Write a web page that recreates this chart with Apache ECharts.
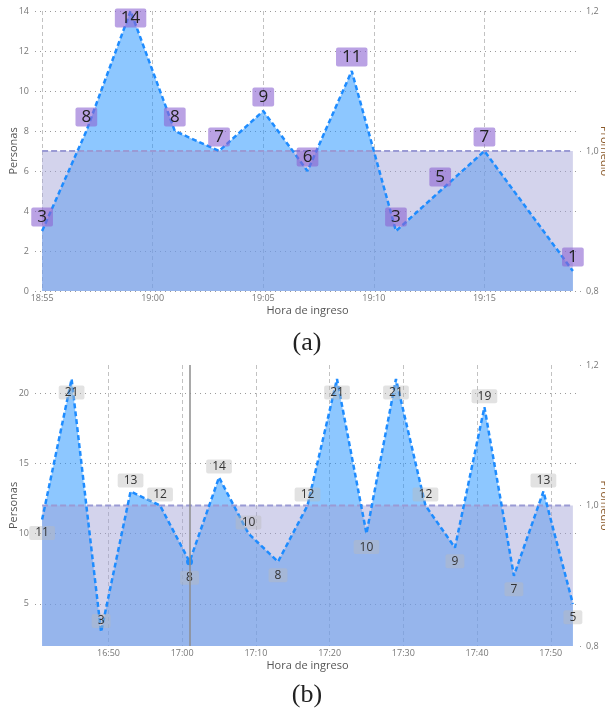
<!DOCTYPE html>
<html>
<head>
<meta charset="utf-8">
<script src="https://cdn.jsdelivr.net/npm/echarts@6/dist/echarts.min.js"></script>
<style>
html,body{margin:0;padding:0;background:#ffffff;}
#chart{width:605px;height:712px;}
</style>
</head>
<body>
<div id="chart"></div>
<script>
// ---------- Data: chart (a) ----------
const timesA = ['18:55','18:57','18:59','19:01','19:03','19:05','19:07','19:09','19:11','19:13','19:15','19:19'];
const personasA = [3, 8, 14, 8, 7, 9, 6, 11, 3, 5, 7, 1];
const promedioA = [1.0, 1.0, 1.0, 1.0, 1.0, 1.0, 1.0, 1.0, 1.0, 1.0, 1.0, 1.0];
const xTicksA = ['18:55','19:00','19:05','19:10','19:15'];
const yTicksA = [0, 2, 4, 6, 8, 10, 12, 14];

// ---------- Data: chart (b) ----------
const timesB = ['16:41','16:45','16:49','16:53','16:57','17:01','17:05','17:09','17:13','17:17','17:21','17:25','17:29','17:33','17:37','17:41','17:45','17:49','17:53'];
const personasB = [11, 21, 3, 13, 12, 8, 14, 10, 8, 12, 21, 10, 21, 12, 9, 19, 7, 13, 5];
const promedioB = [1.0, 1.0, 1.0, 1.0, 1.0, 1.0, 1.0, 1.0, 1.0, 1.0, 1.0, 1.0, 1.0, 1.0, 1.0, 1.0, 1.0, 1.0, 1.0];
const xTicksB = ['16:50','17:00','17:10','17:20','17:30','17:40','17:50'];
const yTicksB = [5, 10, 15, 20];
const cursorB = '17:01';

// shared secondary axis ticks
const rightTicks = [0.8, 1.0, 1.2];

// ---------- helpers ----------
const toMin = s => { const p = s.split(':').map(Number); return p[0] * 60 + p[1]; };
const fmtTime = v => { const t = Math.round(v); return Math.floor(t / 60) + ':' + String(t % 60).padStart(2, '0'); };
const fmtDec = v => Number(v).toFixed(1).replace('.', ',');

const FONT = '"Open Sans", "Noto Sans", sans-serif';
const BLUE_LINE = '#1e8cff';
const BLUE_AREA = 'rgba(30,144,255,0.72)';
const PURP_AREA = 'rgba(160,160,214,0.66)';
const PURP_LINE = '#9a9ad4';

// Chart (a) labels: always above, pulled inside when they would leave the plot
function labelItemsA(times, values, yMax) {
  return times.map((t, i) => {
    const v = values[i];
    const item = { value: [toMin(t), v] };
    if (v + 1.1 > yMax) item.label = { position: 'inside', offset: [0, 7] };
    return item;
  });
}
// Chart (b) labels: below at local minima, above otherwise, flipped to stay inside the plot
function labelItemsB(times, values, yMin, yMax, cursor) {
  return times.map((t, i) => {
    const v = values[i];
    const prev = i > 0 ? values[i - 1] : Infinity;
    const next = i < values.length - 1 ? values[i + 1] : Infinity;
    let below = v <= prev && v <= next;
    if (!below && v + 1.6 > yMax) below = true;
    if (below && v - 1.45 < yMin) below = false;
    const item = {
      value: [toMin(t), v],
      label: below ? { position: 'bottom', distance: 5.5 } : { position: 'top', distance: 3 }
    };
    if (t === cursor) {
      item.symbolSize = 7;
      item.itemStyle = { color: BLUE_LINE };
    }
    return item;
  });
}

function xAxisCfg(gridIndex, times, ticks) {
  const first = toMin(times[0]), last = toMin(times[times.length - 1]);
  const pad = (last - first) * 0.0134;
  const tv = ticks.map(toMin);
  return {
    gridIndex, type: 'value',
    min: first - pad, max: last + pad,
    axisLine: { show: false },
    axisTick: { show: false, customValues: tv },
    axisLabel: { customValues: tv, formatter: fmtTime, fontSize: 9, color: '#777', margin: 3, fontFamily: FONT },
    splitLine: { show: true, lineStyle: { color: '#c2c2c2', width: 1, type: [4, 3] } },
    name: 'Hora de ingreso', nameLocation: 'middle', nameGap: 14, nameMoveOverlap: false,
    nameTextStyle: { fontSize: 11, color: '#555', fontFamily: FONT }
  };
}
function leftAxisCfg(gridIndex, ticks, min, max) {
  return {
    gridIndex, type: 'value', min, max,
    axisLine: { show: false },
    axisTick: { show: false, customValues: ticks },
    axisLabel: { customValues: ticks, fontSize: 9, color: '#777', margin: 6, fontFamily: FONT },
    splitLine: { show: true, lineStyle: { color: '#9a9a9a', width: 1, type: [1, 4] } },
    name: 'Personas', nameLocation: 'middle', nameGap: 16, nameRotate: 90, nameMoveOverlap: false,
    nameTextStyle: { fontSize: 11, color: '#555', fontFamily: FONT }
  };
}
function rightAxisCfg(gridIndex) {
  return {
    gridIndex, type: 'value', position: 'right', min: rightTicks[0], max: rightTicks[rightTicks.length - 1],
    axisLine: { show: false },
    axisTick: { show: true, length: 1, customValues: rightTicks, lineStyle: { color: '#999' } },
    axisLabel: { customValues: rightTicks, formatter: fmtDec, fontSize: 9, color: '#777', margin: 6, fontFamily: FONT },
    splitLine: { show: false },
    name: 'Promedio', nameLocation: 'middle', nameGap: 19, nameRotate: -90, nameMoveOverlap: false,
    nameTextStyle: { fontSize: 11, color: '#8a5a2b', fontFamily: FONT }
  };
}

function seriesSet(xi, yl, yr, times, values, prom, labeled, labelStyle, extra) {
  const pairs = times.map((t, i) => [toMin(t), values[i]]);
  const promPairs = times.map((t, i) => [toMin(t), prom[i]]);
  const s = [
    {
      type: 'line', xAxisIndex: xi, yAxisIndex: yl, data: pairs, symbol: 'none', silent: true,
      lineStyle: { width: 0 }, areaStyle: { color: BLUE_AREA, origin: 'start' }, z: 2
    },
    {
      type: 'line', xAxisIndex: xi, yAxisIndex: yr, data: promPairs, symbol: 'none', silent: true,
      lineStyle: { color: PURP_LINE, width: 2, type: [6, 3] },
      areaStyle: { color: PURP_AREA, origin: 'start' }, z: 3
    },
    Object.assign({
      type: 'line', xAxisIndex: xi, yAxisIndex: yl, data: labeled, silent: true,
      symbol: 'circle', symbolSize: 2, itemStyle: { color: 'rgba(0,0,0,0)' },
      lineStyle: { color: BLUE_LINE, width: 2.5, type: [5, 3] },
      label: Object.assign({ show: true, formatter: p => p.value[1] }, labelStyle), z: 4
    }, extra || {})
  ];
  return s;
}

const chart = echarts.init(document.getElementById('chart'), null, { renderer: 'canvas' });

const labelStyleA = {
  position: 'top', distance: 3.5, fontSize: 17, lineHeight: 19, padding: [0, 6],
  color: '#222', backgroundColor: 'rgba(140,100,210,0.6)', borderRadius: 2, fontFamily: FONT
};
const labelStyleB = {
  fontSize: 12, lineHeight: 14, padding: [0, 6],
  color: '#333', backgroundColor: 'rgba(185,185,185,0.42)', borderRadius: 2, fontFamily: FONT
};

const option = {
  animation: false,
  backgroundColor: '#ffffff',
  grid: [
    { left: 35, top: 11, width: 545, height: 280, outerBoundsMode: 'none', containLabel: false },
    { left: 35, top: 365, width: 545, height: 281, outerBoundsMode: 'none', containLabel: false }
  ],
  xAxis: [ xAxisCfg(0, timesA, xTicksA), xAxisCfg(1, timesB, xTicksB) ],
  yAxis: [
    leftAxisCfg(0, yTicksA, yTicksA[0], yTicksA[yTicksA.length - 1]),
    rightAxisCfg(0),
    leftAxisCfg(1, yTicksB, 2, 22),
    rightAxisCfg(1)
  ],
  series: [].concat(
    seriesSet(0, 0, 1, timesA, personasA, promedioA, labelItemsA(timesA, personasA, 14), labelStyleA),
    seriesSet(1, 2, 3, timesB, personasB, promedioB, labelItemsB(timesB, personasB, 2, 22, cursorB), labelStyleB, {
      markLine: {
        silent: true, symbol: 'none', label: { show: false },
        lineStyle: { color: '#8c8c8c', width: 1.5, type: 'solid' },
        data: [{ xAxis: toMin(cursorB) }]
      }
    })
  ),
  graphic: [
    { type: 'text', x: 307, y: 343, style: { text: '(a)', fontSize: 26, fontFamily: '"Liberation Serif", "DejaVu Serif", serif', fill: '#222', align: 'center', verticalAlign: 'middle' } },
    { type: 'text', x: 307, y: 695, style: { text: '(b)', fontSize: 26, fontFamily: '"Liberation Serif", "DejaVu Serif", serif', fill: '#222', align: 'center', verticalAlign: 'middle' } }
  ]
};
chart.setOption(option);
</script>
</body>
</html>
